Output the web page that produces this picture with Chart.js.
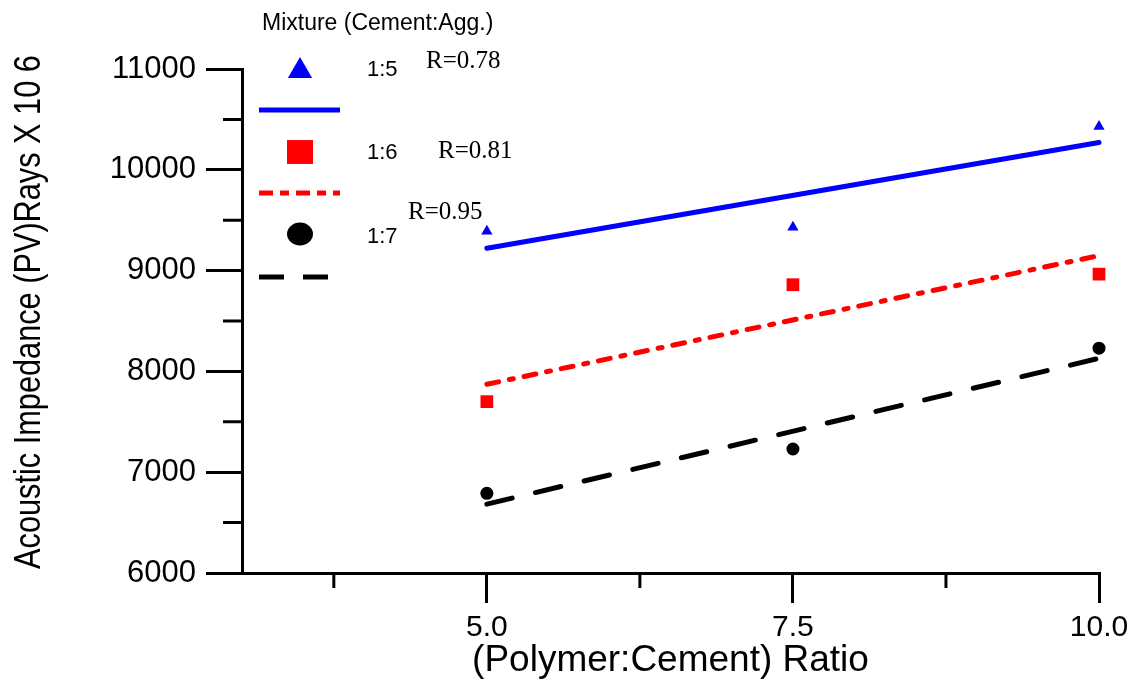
<!DOCTYPE html>
<html>
<head>
<meta charset="utf-8">
<title>Acoustic Impedance vs (Polymer:Cement) Ratio</title>
<script src="https://cdn.jsdelivr.net/npm/chart.js@4.4.0/dist/chart.umd.min.js"></script>
<style>
  html, body { margin: 0; padding: 0; background: #fff; }
  canvas { display: block; }
</style>
</head>
<body>
<canvas id="impedanceChart" width="1139" height="684"></canvas>
<script>
// measured points, one array per mixture
const ratios = [5.0, 7.5, 10.0];
const mix15 = [9390, 9430, 10430];
const mix16 = [7700, 8860, 8965];
const mix17 = [6790, 7230, 8230];

// fitted lines (end points)
const fitRatios = [5.0, 10.0];
const fit15 = [9222, 10271];
const fit16 = [7872, 9149];
const fit17 = [6683, 8130];

const mixLabels = ['1:5', '1:6', '1:7'];
const rLabels = ['R=0.78', 'R=0.81', 'R=0.95'];

const xTicks = [5.0, 7.5, 10.0];
const xMinorTicks = [3.75, 6.25, 8.75];
const yMinorTicks = [6500, 7500, 8500, 9500, 10500];

const SANS = "'Liberation Sans', Arial, Helvetica, sans-serif";
const SERIF = "'Liberation Serif', 'Times New Roman', serif";

const toPoints = (xs, ys) => xs.map((x, i) => ({ x: x, y: ys[i] }));

// minor tick marks (shorter than the major ones Chart.js draws)
const minorTicks = {
  id: 'minorTicks',
  afterDraw(chart) {
    const { ctx, chartArea, scales } = chart;
    ctx.save();
    ctx.strokeStyle = '#000';
    ctx.lineWidth = 3;
    ctx.beginPath();
    yMinorTicks.forEach(v => {
      const y = scales.y.getPixelForValue(v);
      ctx.moveTo(chartArea.left - 19, y);
      ctx.lineTo(chartArea.left, y);
    });
    xMinorTicks.forEach(v => {
      const x = scales.x.getPixelForValue(v);
      ctx.moveTo(x, chartArea.bottom);
      ctx.lineTo(x, chartArea.bottom + 15);
    });
    ctx.stroke();
    ctx.restore();
  }
};

// condensed rotated y title
const yTitle = {
  id: 'yTitle',
  afterDraw(chart) {
    const ctx = chart.ctx;
    ctx.save();
    ctx.translate(40, 312);
    ctx.rotate(-Math.PI / 2);
    ctx.scale(0.83, 1);
    ctx.font = '37px ' + SANS;
    ctx.fillStyle = '#000';
    ctx.textAlign = 'center';
    ctx.textBaseline = 'alphabetic';
    ctx.fillText('Acoustic Impedance (PV)Rays X 10 6', 0, 0);
    ctx.restore();
  }
};

function drawMarker(ctx, style, x, y, r) {
  ctx.beginPath();
  if (style === 'triangle') {
    ctx.moveTo(x, y - r);
    ctx.lineTo(x + r * 0.866, y + r * 0.5);
    ctx.lineTo(x - r * 0.866, y + r * 0.5);
    ctx.closePath();
  } else if (style === 'rect') {
    ctx.rect(x - r, y - r * 0.92, 2 * r, 2 * r * 0.92);
  } else {
    ctx.ellipse(x, y, r, r * 0.88, 0, 0, Math.PI * 2);
  }
  ctx.fill();
}

// legend in the style of the original figure
const mixLegend = {
  id: 'mixLegend',
  afterDraw(chart) {
    const ctx = chart.ctx;
    const sets = chart.data.datasets;
    const rows = [
      { marker: sets[0], line: sets[3], my: 71, ly: 110, size: 14, tb: 76, rx: 426, rb: 68 },
      { marker: sets[1], line: sets[4], my: 152, ly: 193, size: 13, tb: 159, rx: 438, rb: 158 },
      { marker: sets[2], line: sets[5], my: 234, ly: 277, size: 13, tb: 243, rx: 408, rb: 219 }
    ];
    ctx.save();
    ctx.fillStyle = '#000';
    ctx.font = '23px ' + SANS;
    ctx.textBaseline = 'alphabetic';
    ctx.fillText('Mixture (Cement:Agg.)', 262, 30);

    rows.forEach((row, i) => {
      ctx.fillStyle = row.marker.backgroundColor;
      drawMarker(ctx, row.marker.pointStyle, 300, row.my, row.size);

      ctx.strokeStyle = row.line.borderColor;
      ctx.lineWidth = 5;
      ctx.lineCap = 'butt';
      ctx.setLineDash(i === 0 ? [] : (i === 1 ? [14, 7, 9, 7] : [25, 19]));
      ctx.beginPath();
      ctx.moveTo(259, row.ly);
      ctx.lineTo(i === 2 ? 328 : 340, row.ly);
      ctx.stroke();
      ctx.setLineDash([]);

      ctx.fillStyle = '#000';
      ctx.font = '22px ' + SANS;
      ctx.fillText(mixLabels[i], 367, row.tb);
      ctx.font = '25px ' + SERIF;
      ctx.fillText(rLabels[i], row.rx, row.rb);
    });
    ctx.restore();
  }
};

const ctx = document.getElementById('impedanceChart').getContext('2d');
new Chart(ctx, {
  type: 'scatter',
  data: {
    datasets: [
      {
        label: '1:5',
        data: toPoints(ratios, mix15),
        pointStyle: 'triangle',
        pointRadius: 6.5,
        backgroundColor: '#0000ff',
        borderWidth: 0,
        clip: false
      },
      {
        label: '1:6',
        data: toPoints(ratios, mix16),
        pointStyle: 'rect',
        pointRadius: 9,
        backgroundColor: '#ff0000',
        borderWidth: 0,
        clip: false
      },
      {
        label: '1:7',
        data: toPoints(ratios, mix17),
        pointStyle: 'circle',
        pointRadius: 6.5,
        backgroundColor: '#000000',
        borderWidth: 0,
        clip: false
      },
      {
        label: '1:5 fit',
        data: toPoints(fitRatios, fit15),
        showLine: true,
        pointRadius: 0,
        borderColor: '#0000ff',
        borderWidth: 5,
        borderCapStyle: 'round',
        clip: false
      },
      {
        label: '1:6 fit',
        data: toPoints(fitRatios, fit16),
        showLine: true,
        pointRadius: 0,
        borderColor: '#ff0000',
        borderWidth: 5,
        borderCapStyle: 'round',
        borderDash: [12, 11, 4, 11],
        clip: false
      },
      {
        label: '1:7 fit',
        data: toPoints(fitRatios, fit17),
        showLine: true,
        pointRadius: 0,
        borderColor: '#000000',
        borderWidth: 5,
        borderCapStyle: 'round',
        borderDash: [26, 24],
        clip: false
      }
    ]
  },
  options: {
    responsive: false,
    animation: false,
    events: [],
    layout: { padding: { top: 69, right: 40, left: 0, bottom: 0 } },
    plugins: {
      legend: { display: false },
      tooltip: { enabled: false }
    },
    scales: {
      x: {
        type: 'linear',
        min: 3,
        max: 10,
        afterBuildTicks: scale => { scale.ticks = xTicks.map(v => ({ value: v })); },
        afterFit: scale => { scale.height = 111; },
        border: { display: true, color: '#000', width: 3 },
        grid: { drawOnChartArea: false, drawTicks: true, tickLength: 30, lineWidth: 3, tickWidth: 3, tickColor: '#000' },
        ticks: {
          color: '#000',
          padding: 7,
          maxRotation: 0,
          font: { family: SANS, size: 30 },
          callback: v => Number(v).toFixed(1)
        },
        title: {
          display: true,
          text: '(Polymer:Cement) Ratio',
          color: '#000',
          font: { family: SANS, size: 37 },
          padding: { top: 0, bottom: 1 }
        }
      },
      y: {
        type: 'linear',
        min: 6000,
        max: 11000,
        afterFit: scale => { scale.width = 242; },
        border: { display: true, color: '#000', width: 3 },
        grid: { drawOnChartArea: false, drawTicks: true, tickLength: 36, lineWidth: 3, tickWidth: 3, tickColor: '#000' },
        ticks: {
          stepSize: 1000,
          color: '#000',
          padding: 10,
          font: { family: SANS, size: 31 },
          callback: v => String(v)
        }
      }
    }
  },
  plugins: [minorTicks, yTitle, mixLegend]
});
</script>
</body>
</html>
